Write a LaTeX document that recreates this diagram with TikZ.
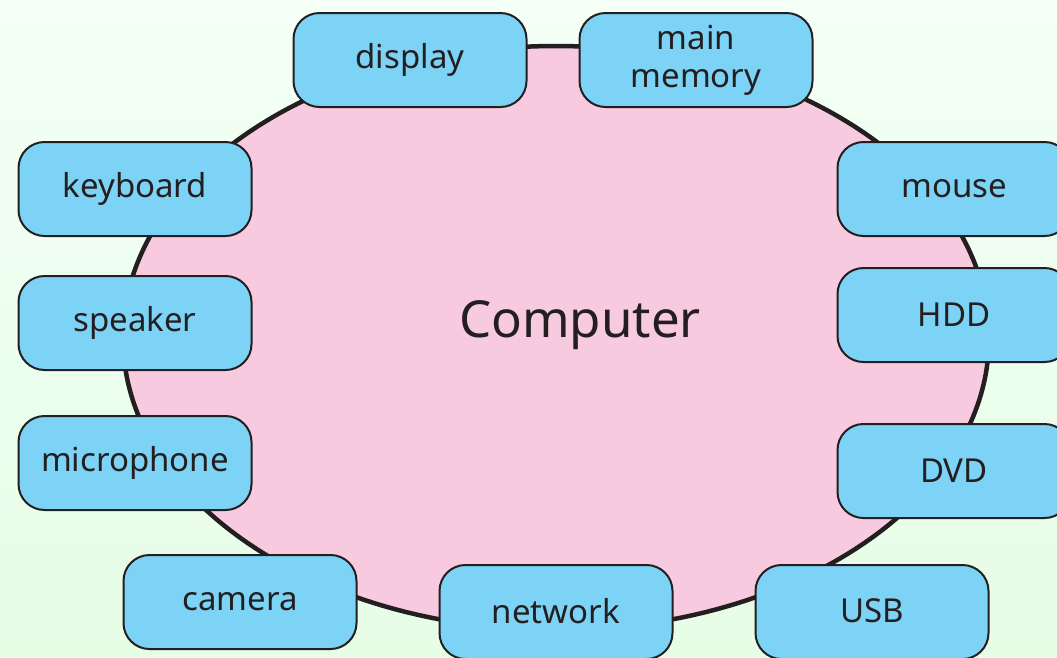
\documentclass[tikz,border=0pt]{standalone}
\usepackage{fontspec}
\setmainfont{Noto Sans}
\usetikzlibrary{shapes.geometric}
\definecolor{bgtop}{HTML}{F4FFF6}
\definecolor{bgbot}{HTML}{E6FDE6}
\definecolor{corepink}{HTML}{F8CAE0}
\definecolor{partblue}{HTML}{7DD3F5}
\definecolor{edge}{HTML}{231F20}
\definecolor{ink}{HTML}{231F20}
\begin{document}
\begin{tikzpicture}[x=1pt,y=-1pt,
  part/.style={draw=edge, line width=2pt, fill=partblue, rounded corners=26pt,
    minimum width=233pt, minimum height=94pt, inner sep=0pt,
    font=\fontsize{33}{38}\selectfont, text=ink, align=center},
  core/.style={ellipse, draw=edge, line width=4.5pt, fill=corepink,
    minimum width=866pt, minimum height=584pt, inner sep=0pt}]
  \useasboundingbox (0,0) rectangle (1057,657);
  \clip (0,0) rectangle (1057,657);
  \shade[top color=bgtop, bottom color=bgbot] (0,0) rectangle (1057,657);

  % the computer body
  \node[core] (body) at (556,338) {};
  \node[font=\fontsize{51}{56}\selectfont, text=ink] (computer) at (580,325) {Computer};

  % attached components
  \node[part] (display)  at (410,60)  {display};
  \node[part] (memory)   at (696,60)  {\raisebox{-3pt}{main}\\\raisebox{-3pt}{memory}};
  \node[part] (keyboard) at (135,189) {keyboard};
  \node[part] (speaker)  at (135,323) {speaker};
  \node[part] (mic)      at (135,463) {microphone};
  \node[part] (camera)   at (240,602) {camera};
  \node[part] (network)  at (556,612) {\raisebox{3pt}{network}};
  \node[part] (usb)      at (872,612) {\raisebox{3pt}{USB}};
  \node[part] (mouse)    at (954,189) {mouse};
  \node[part] (hdd)      at (954,315) {HDD};
  \node[part] (dvd)      at (954,471) {DVD};
\end{tikzpicture}
\end{document}
